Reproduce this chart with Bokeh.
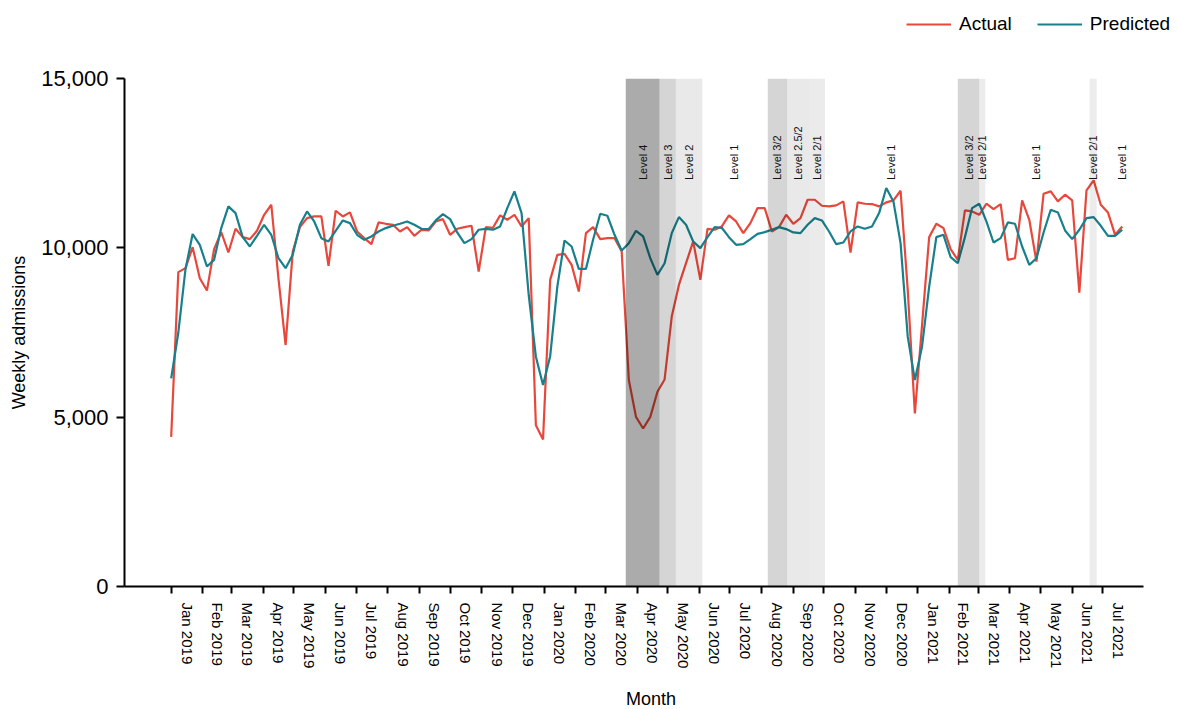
import pandas as pd
from bokeh.plotting import figure
from bokeh.layouts import column
from bokeh.models import (FixedTicker, NumeralTickFormatter, Legend, LegendItem,
                          ColumnDataSource, Range1d)
from bokeh.core.properties import value
from bokeh.embed import file_html
from bokeh.resources import INLINE
import math

# ---------------- data ----------------
first_week = "2019-01-06"
n_weeks = 134

actual = [4417, 9282, 9400, 10021, 9104, 8738, 9961, 10464, 9862, 10562,
          10316, 10257, 10503, 10976, 11272, 9100, 7130, 9892, 10612, 10878,
          10927, 10927, 9467, 11095, 10927, 11046, 10483, 10286, 10108, 10750,
          10710, 10680, 10483, 10612, 10355, 10533, 10513, 10779, 10848, 10385,
          10562, 10612, 10651, 9300, 10612, 10592, 10957, 10829, 10976, 10632,
          10878, 4763, 4339, 9053, 9793, 9823, 9497, 8708, 10434, 10612,
          10257, 10286, 10286, 9891, 6095, 5010, 4665, 5010, 5749, 6114,
          7969, 8905, 9546, 10188, 9053, 10562, 10533, 10632, 10957, 10779,
          10434, 10730, 11174, 11174, 10483, 10612, 10976, 10710, 10878, 11420,
          11420, 11243, 11223, 11253, 11371, 9862, 11341, 11302, 11292, 11223,
          11341, 11401, 11686, 8767, 5109, 7712, 10316, 10710, 10582, 9961,
          9645, 11105, 11075, 10976, 11302, 11144, 11292, 9645, 9694, 11401,
          10829, 9596, 11598, 11667, 11371, 11568, 11401, 8679, 11696, 11992,
          11272, 11046, 10385, 10632]

predicted = [6145, 7500, 9370, 10406, 10089, 9448, 9645, 10583, 11223, 11026,
             10316, 10039, 10355, 10681, 10385, 9694, 9400, 9793, 10681, 11075,
             10779, 10286, 10188, 10503, 10809, 10730, 10385, 10237, 10336, 10483,
             10583, 10651, 10710, 10779, 10681, 10562, 10552, 10809, 10996, 10848,
             10454, 10138, 10257, 10533, 10562, 10533, 10632, 11174, 11666, 11026,
             8600, 6785, 5947, 6800, 8856, 10217, 10039, 9379, 9379, 10237,
             11006, 10947, 10385, 9921, 10138, 10503, 10336, 9694, 9201, 9546,
             10434, 10907, 10681, 10188, 9990, 10316, 10612, 10592, 10316, 10089,
             10108, 10257, 10414, 10464, 10533, 10612, 10553, 10454, 10434, 10681,
             10878, 10809, 10483, 10108, 10158, 10483, 10632, 10562, 10632, 11026,
             11766, 11371, 10138, 7377, 6095, 7081, 8856, 10316, 10385, 9724,
             9546, 10316, 11174, 11302, 10779, 10158, 10286, 10750, 10710, 10039,
             9497, 9694, 10454, 11124, 11046, 10513, 10257, 10533, 10878, 10907,
             10651, 10355, 10355, 10533]

band_start = ["2020-03-26", "2020-04-28", "2020-05-14", "2020-08-12", "2020-08-31",
              "2020-09-22", "2021-02-14", "2021-03-07", "2021-06-23"]
band_end = ["2020-04-27", "2020-05-13", "2020-06-08", "2020-08-30", "2020-09-21",
            "2020-10-06", "2021-03-06", "2021-03-12", "2021-06-29"]
band_label = ["Level 4", "Level 3", "Level 2", "Level 3/2", "Level 2.5/2",
              "Level 2/1", "Level 3/2", "Level 2/1", "Level 2/1"]
band_shade = ["#ababab", "#d5d5d5", "#e9e9e9", "#d5d5d5", "#e9e9e9",
              "#eaeaea", "#d5d5d5", "#ebebeb", "#ebebeb"]

level1_dates = ["2020-07-10", "2020-12-11", "2021-05-02", "2021-07-25"]

month_labels = ["Jan 2019", "Feb 2019", "Mar 2019", "Apr 2019", "May 2019", "Jun 2019",
                "Jul 2019", "Aug 2019", "Sep 2019", "Oct 2019", "Nov 2019", "Dec 2019",
                "Jan 2020", "Feb 2020", "Mar 2020", "Apr 2020", "May 2020", "Jun 2020",
                "Jul 2020", "Aug 2020", "Sep 2020", "Oct 2020", "Nov 2020", "Dec 2020",
                "Jan 2021", "Feb 2021", "Mar 2021", "Apr 2021", "May 2021", "Jun 2021",
                "Jul 2021"]
y_ticks = [0, 5000, 10000, 15000]
series_names = ["Actual", "Predicted"]

# ---------------- helpers ----------------
base = pd.Timestamp(first_week)


def day(d):
    return (pd.Timestamp(d) - base).days


weeks = pd.date_range(first_week, periods=n_weeks, freq="7D")
xw = [(w - base).days for w in weeks]

month_starts = pd.date_range("2019-01-01", periods=len(month_labels) + 1, freq="MS") + pd.Timedelta(days=5)
tick_x = [(m - base).days for m in month_starts]
minor_x = tick_x[:-1]
label_x = [(tick_x[i] + tick_x[i + 1]) / 2 for i in range(len(month_labels))]

RED = "#e8483b"
TEAL = "#17808c"
FONT = "Liberation Sans"
LEG_H = 38

# axis extent (days) and frame extent (the frame reaches the right edge so the
# legend strip aligned above it has room; the x axis itself stops at AXIS_END)
AXIS_START, AXIS_END = -45.7, 951.8
PX_PER_DAY = 1019 / (AXIS_END - AXIS_START)
FRAME_W = 1053
FRAME_END = AXIS_START + FRAME_W / PX_PER_DAY

# ---------------- main chart ----------------
p = figure(width=1177, height=709 - LEG_H, output_backend="svg", toolbar_location=None,
           x_range=Range1d(AXIS_START, FRAME_END), y_range=Range1d(0, 15000),
           frame_width=FRAME_W, frame_height=508, min_border_left=124,
           min_border_top=78 - LEG_H, min_border_right=0, min_border_bottom=4)
p.outline_line_color = None
p.grid.visible = False
p.background_fill_color = "white"

p.line(xw, actual, line_color=RED, line_width=2.2)
p.line(xw, predicted, line_color=TEAL, line_width=2.2)

# shaded alert-level bands (drawn over lines, semi-transparent)
alphas = {"#ababab": 0.33, "#d5d5d5": 0.165, "#e9e9e9": 0.085, "#eaeaea": 0.08, "#ebebeb": 0.075}
bsrc = ColumnDataSource(dict(
    left=[day(s) for s in band_start],
    right=[day(e) + 1 for e in band_end],
    alpha=[alphas[c] for c in band_shade],
))
p.quad(left="left", right="right", bottom=0, top=15000, source=bsrc,
       fill_color="black", fill_alpha="alpha", line_color=None)

lab_x = [(day(s) + day(e) + 1) / 2 for s, e in zip(band_start, band_end)] + [day(d) for d in level1_dates]
lab_t = band_label + ["Level 1"] * len(level1_dates)
p.text(x=lab_x, y=[12000] * len(lab_x), text=lab_t, angle=math.pi / 2,
       text_align="left", text_baseline="middle", text_font=value(FONT),
       text_font_size="11px", text_color="#111111")

# axes
xa = p.xaxis[0]
xa.bounds = (AXIS_START, AXIS_END)
xa.ticker = FixedTicker(ticks=label_x, minor_ticks=minor_x)
xa.major_label_overrides = {lx: t for lx, t in zip(label_x, month_labels)}
xa.major_label_orientation = "vertical"
xa.major_tick_out = 0
xa.major_tick_in = 0
xa.minor_tick_out = 7
xa.minor_tick_in = 0
xa.minor_tick_line_color = "black"
xa.minor_tick_line_width = 2
xa.axis_line_width = 2
xa.axis_line_color = "black"
xa.major_label_standoff = 9
xa.major_label_text_font = FONT
xa.major_label_text_font_size = "15px"
xa.major_label_text_color = "black"
xa.axis_label = "Month"
xa.axis_label_text_font = FONT
xa.axis_label_text_font_style = "normal"
xa.axis_label_text_font_size = "18px"
xa.axis_label_text_color = "black"
xa.axis_label_standoff = 18

ya = p.yaxis[0]
ya.ticker = FixedTicker(ticks=y_ticks, minor_ticks=[])
ya.formatter = NumeralTickFormatter(format="0,0")
ya.major_tick_out = 8
ya.major_tick_in = 0
ya.major_tick_line_width = 2
ya.axis_line_width = 2
ya.axis_line_color = "black"
ya.major_label_standoff = 8
ya.major_label_text_font = FONT
ya.major_label_text_font_size = "22px"
ya.major_label_text_color = "black"
ya.axis_label = "Weekly admissions"
ya.axis_label_text_font = FONT
ya.axis_label_text_font_style = "normal"
ya.axis_label_text_font_size = "18px"
ya.axis_label_text_color = "black"
ya.axis_label_standoff = 9

# ---------------- legend strip ----------------
lg = figure(width=1177, height=LEG_H, output_backend="svg", toolbar_location=None,
            x_range=Range1d(0, 1), y_range=Range1d(0, 1), min_border=0,
            x_axis_location=None, y_axis_location=None)
lg.grid.visible = False
lg.outline_line_color = None
nan = float("nan")
la = lg.line([nan], [nan], line_color=RED, line_width=2.2)
lp = lg.line([nan], [nan], line_color=TEAL, line_width=2.2)
legend = Legend(items=[LegendItem(label=series_names[0], renderers=[la]),
                       LegendItem(label=series_names[1], renderers=[lp])],
                orientation="horizontal", location=(782, 3),
                glyph_width=45, label_standoff=8, spacing=25, padding=5, margin=0,
                label_text_font=FONT, label_text_font_size="19px",
                label_text_color="black",
                border_line_color=None, background_fill_alpha=0)
lg.add_layout(legend)

open("out.html", "w").write(file_html(column(lg, p, spacing=0), INLINE))
